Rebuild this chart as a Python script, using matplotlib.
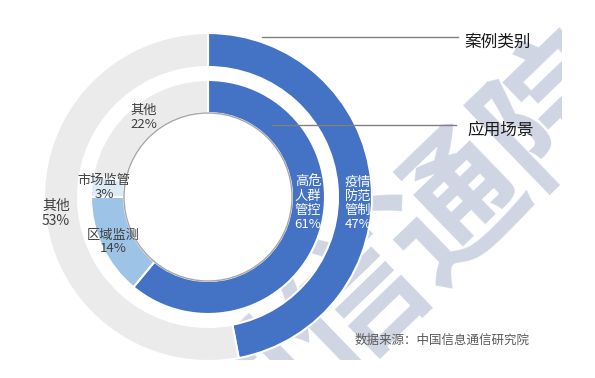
import numpy as np
import matplotlib.pyplot as plt
from matplotlib.transforms import Bbox, TransformedBbox

plt.rcParams['font.family'] = ['Noto Sans CJK SC', 'DejaVu Sans']

# 外环：案例类别
outer_labels = ['疫情\n防范\n管制', '其他']
outer_vals = [47, 53]
# 内环：应用场景
inner_labels = ['高危\n人群\n管控', '区域监测', '市场监管', '其他']
inner_vals = [61, 14, 3, 22]

blue = '#4472C4'
gray = '#EBEBEB'
outer_colors = [blue, gray]
inner_colors = [blue, '#9DC3E6', '#DDEBF7', gray]

fig = plt.figure(figsize=(5.95, 3.78), dpi=100)
ax = fig.add_axes([0, 0, 1, 1])

H = 378
cx, cy = 208, H - 197

ax.pie(outer_vals, colors=outer_colors, radius=164, center=(cx, cy),
       startangle=90, counterclock=False,
       wedgeprops=dict(width=34, edgecolor='white', linewidth=1.5, zorder=2))
ax.pie(inner_vals, colors=inner_colors, radius=117, center=(cx, cy),
       startangle=90, counterclock=False,
       wedgeprops=dict(width=33, edgecolor='white', linewidth=1.5, zorder=2))
circ = plt.Circle((cx, cy), 84, fill=False, edgecolor='#a6a6a6', linewidth=1, zorder=3)
ax.add_patch(circ)

ax.set_xlim(0, 595)
ax.set_ylim(0, H)
ax.set_aspect('auto')
ax.axis('off')

def t(x, y, s, **kw):
    ax.text(x, H - y, s, ha='center', va='center', zorder=10, **kw)

dark = '#404040'
t(56, 213, outer_labels[1] + '\n' + str(outer_vals[1]) + '%', fontsize=10, color=dark, linespacing=1.1)
t(358, 203, outer_labels[0] + '\n' + str(outer_vals[0]) + '%', fontsize=9.5, color='white', linespacing=1.1)
t(308, 203, inner_labels[0] + '\n' + str(inner_vals[0]) + '%', fontsize=9.5, color='white', linespacing=1.1)
t(113, 242, inner_labels[1] + '\n' + str(inner_vals[1]) + '%', fontsize=9.5, color=dark, linespacing=1.1)
t(104, 187, inner_labels[2] + '\n' + str(inner_vals[2]) + '%', fontsize=9.5, color=dark, linespacing=1.1)
t(144, 117, inner_labels[3] + '\n' + str(inner_vals[3]) + '%', fontsize=9.5, color=dark, linespacing=1.1)

# 引导线
ax.plot([262, 458], [H - 37, H - 37], color='#808080', linewidth=1, zorder=4)
ax.plot([272, 456], [H - 125, H - 125], color='#808080', linewidth=1, zorder=4)
ax.text(464, H - 42, '案例类别', ha='left', va='center', fontsize=12, color='#1a1a1a', zorder=10)
ax.text(467, H - 130, '应用场景', ha='left', va='center', fontsize=12, color='#1a1a1a', zorder=10)

ax.text(355, H - 340, '数据来源：中国信息通信研究院', ha='left', va='center',
        fontsize=9, color='#595959', zorder=10)

# 水印（在图片边缘被裁切）
wm = ax.text(355, H - 300, '中国信通院', rotation=44, ha='center', va='center',
             fontsize=100, fontweight='bold', color='#d0d5e4', zorder=1)
wm.set_clip_on(True)
wm.set_clip_box(TransformedBbox(Bbox([[0, H - 360], [562, H]]), ax.transData))

fig.savefig('out.png', dpi=100)
